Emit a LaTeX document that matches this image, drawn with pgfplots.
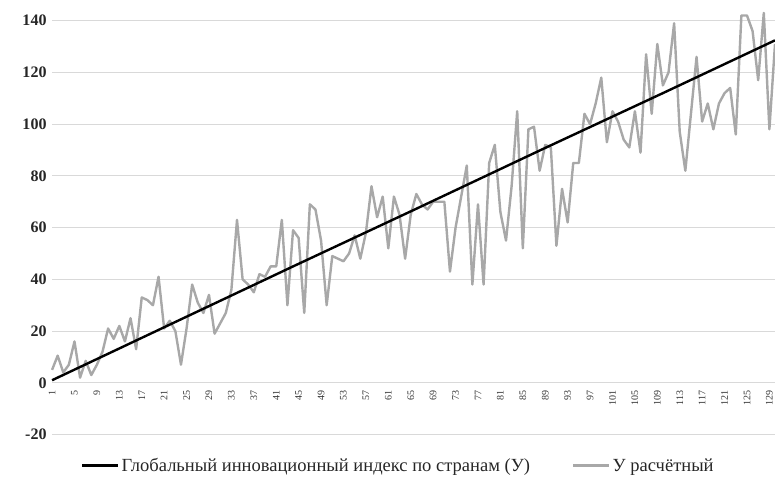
\documentclass[border=0pt]{standalone}
\usepackage{pgfplots}
\pgfplotsset{compat=1.18}
\usepackage{fontspec}
\setmainfont{Liberation Serif}
\definecolor{calc}{RGB}{168,168,168}
\definecolor{gridc}{RGB}{217,217,217}
\begin{document}
\begin{tikzpicture}
\begin{axis}[
    scale only axis,
    width=722pt, height=434pt,
    xmin=1, xmax=130, ymin=-20, ymax=148,
    axis x line=middle, axis y line=left,
    axis line style={draw=none},
    hide obscured x ticks=false, hide obscured y ticks=false,
    major tick length=0pt,
    ymajorgrids, grid style={gridc, line width=1pt},
    ytick={-20,0,20,40,60,80,100,120,140},
    yticklabels={-20,0,20,40,60,80,100,120,140},
    yticklabel style={font=\fontsize{16}{18}\selectfont\bfseries, text=black!85, xshift=-2pt},
    xtick={1,5,...,129},
    /pgf/number format/assume math mode=true,
    xticklabel shift=4pt,
    xticklabel style={font=\fontsize{10}{11}\selectfont, rotate=90, anchor=east, text=black!80},
    clip=false,
    legend columns=2,
    legend style={draw=none, fill=none, at={(0.04,-0.0714)}, anchor=west,
        font=\fontsize{18.5}{20}\selectfont, text=black!85, inner sep=0pt,
        /tikz/every even column/.append style={column sep=40pt}},
    legend image code/.code={\draw[#1] (0pt,0pt) -- (36pt,0pt);},
]
\coordinate (sw) at (rel axis cs:0,0);
\coordinate (ne) at (rel axis cs:1,1);
% Y calculated (grey)
\addplot[calc, line width=2.4pt, line join=round, forget plot] coordinates {
(1,5) (2,10.5) (3,4) (4,7) (5,16) (6,2) (7,8.5) (8,3) (9,7) (10,12)
(11,21) (12,17) (13,22) (14,16) (15,25) (16,13) (17,33) (18,32) (19,30) (20,41)
(21,21) (22,24) (23,20) (24,7) (25,21) (26,38) (27,31) (28,27) (29,34) (30,19)
(31,23) (32,27) (33,36) (34,63) (35,40) (36,38) (37,35) (38,42) (39,41) (40,45)
(41,45) (42,63) (43,30) (44,59) (45,56) (46,27) (47,69) (48,67) (49,55) (50,30)
(51,49) (52,48) (53,47) (54,50) (55,57) (56,48) (57,58) (58,76) (59,64) (60,72)
(61,52) (62,72) (63,65) (64,48) (65,65) (66,73) (67,69) (68,67) (69,70) (70,70)
(71,70) (72,43) (73,60) (74,72) (75,84) (76,38) (77,69) (78,38) (79,85) (80,92)
(81,66) (82,55) (83,76) (84,105) (85,52) (86,98) (87,99) (88,82) (89,92) (90,91)
(91,53) (92,75) (93,62) (94,85) (95,85) (96,104) (97,100) (98,108) (99,118) (100,93)
(101,105) (102,101) (103,94) (104,91) (105,105) (106,89) (107,127) (108,104) (109,131) (110,115)
(111,120) (112,139) (113,97) (114,82) (115,104) (116,126) (117,101) (118,108) (119,98) (120,108)
(121,112) (122,114) (123,96) (124,142) (125,142) (126,136) (127,117) (128,143) (129,98) (130,131)
};
% Y actual (black)
\addplot[black, line width=2.4pt, line join=round] coordinates {
(1,1) (22,22.5) (44,45) (66,67.3) (88,89.8) (110,112) (130,132.4)
};
\addlegendentry{Глобальный инновационный индекс по странам (У)}
\addlegendimage{calc, line width=2.4pt}
\addlegendentry{У расчётный}
\end{axis}
\pgfresetboundingbox
\path ([xshift=-52pt,yshift=-44pt]sw) rectangle (ne);
\end{tikzpicture}
\end{document}
